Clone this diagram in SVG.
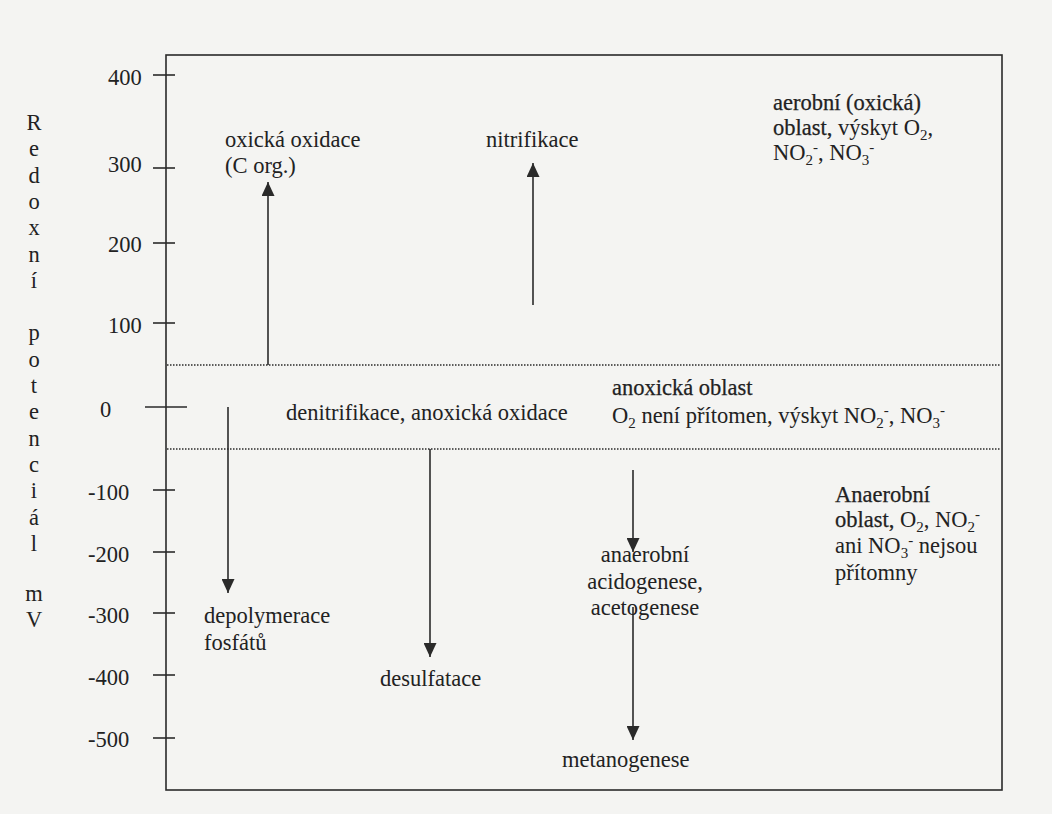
<svg xmlns="http://www.w3.org/2000/svg" width="1052" height="814" viewBox="0 0 1052 814">
<style>
text{font-family:"Liberation Serif","Tinos","Times New Roman","DejaVu Serif",serif;font-size:22.5px;fill:#222}
.hd{stroke:#222;stroke-width:0.25}
.ax{text-anchor:middle}
.s{font-size:15px}
.ln{stroke:#2a2a2a;stroke-width:1.6;fill:none}
.dot{stroke:#2a2a2a;stroke-width:1.5;stroke-dasharray:1.5 1.5;fill:none}
.arr{stroke:#2a2a2a;stroke-width:1.6;fill:none;marker-end:url(#ah)}
</style>
<defs>
<marker id="ah" markerUnits="userSpaceOnUse" markerWidth="14" markerHeight="13" refX="14" refY="6.5" orient="auto">
<path d="M0,0 L14,6.5 L0,13 z" fill="#2a2a2a"/>
</marker>
</defs>
<rect x="0" y="0" width="1052" height="814" fill="#f4f4f2"/>

<g id="frame">
<rect class="ln" x="166" y="55" width="836" height="735"/>
<line class="dot" x1="167" y1="365" x2="1001" y2="365"/>
<line class="dot" x1="167" y1="449" x2="1001" y2="449"/>
</g>

<g id="axis">
<g class="ln">
<line x1="153" y1="75" x2="175" y2="75"/>
<line x1="153" y1="168" x2="175" y2="168"/>
<line x1="153" y1="243" x2="175" y2="243"/>
<line x1="153" y1="323" x2="175" y2="323"/>
<line x1="145" y1="407" x2="187" y2="407"/>
<line x1="153" y1="490" x2="175" y2="490"/>
<line x1="153" y1="552" x2="175" y2="552"/>
<line x1="153" y1="613" x2="175" y2="613"/>
<line x1="153" y1="675" x2="175" y2="675"/>
<line x1="153" y1="738" x2="175" y2="738"/>
</g>
<text x="108" y="85">400</text>
<text x="108" y="172">300</text>
<text x="108" y="252">200</text>
<text x="108" y="333">100</text>
<text x="100" y="417">0</text>
<text x="88" y="500">-100</text>
<text x="88" y="562">-200</text>
<text x="88" y="623">-300</text>
<text x="88" y="685">-400</text>
<text x="88" y="747">-500</text>
</g>

<g id="axis-title">
<text class="ax" x="34" y="130">R</text>
<text class="ax" x="34" y="156">e</text>
<text class="ax" x="34" y="183">d</text>
<text class="ax" x="34" y="209">o</text>
<text class="ax" x="34" y="235">x</text>
<text class="ax" x="34" y="262">n</text>
<text class="ax" x="34" y="288">í</text>
<text class="ax" x="34" y="340">p</text>
<text class="ax" x="34" y="367">o</text>
<text class="ax" x="34" y="393">t</text>
<text class="ax" x="34" y="419">e</text>
<text class="ax" x="34" y="446">n</text>
<text class="ax" x="34" y="472">c</text>
<text class="ax" x="34" y="498">i</text>
<text class="ax" x="34" y="525">á</text>
<text class="ax" x="34" y="551">l</text>
<text class="ax" x="34" y="601">m</text>
<text class="ax" x="34" y="627">V</text>
</g>

<g id="connectors">
<line class="arr" x1="268" y1="365" x2="268" y2="182"/>
<line class="arr" x1="533" y1="305" x2="533" y2="163"/>
<line class="arr" x1="228" y1="407" x2="228" y2="593"/>
<line class="arr" x1="430" y1="449" x2="430" y2="657"/>
<line class="arr" x1="633" y1="470" x2="633" y2="552"/>
<line class="arr" x1="633" y1="607" x2="633" y2="740"/>
</g>

<g id="oxicka-oxidace">
<text x="225" y="147">oxická oxidace</text>
<text x="225" y="173">(C org.)</text>
</g>
<g id="nitrifikace">
<text x="486" y="147">nitrifikace</text>
</g>
<g id="aerobni-oblast">
<text x="773" y="110" class="hd">aerobní (oxická)</text>
<text x="773" y="135"><tspan class="hd">oblast,</tspan> výskyt O<tspan class="s" dy="5">2</tspan><tspan dy="-5">,</tspan></text>
<text x="773" y="160">NO<tspan class="s" dy="5">2</tspan><tspan class="s" dy="-13">-</tspan><tspan dy="8">, NO</tspan><tspan class="s" dy="5">3</tspan><tspan class="s" dy="-13">-</tspan></text>
</g>
<g id="denitrifikace">
<text x="286" y="420">denitrifikace, anoxická oxidace</text>
</g>
<g id="anoxicka-oblast">
<text x="612" y="395" class="hd">anoxická oblast</text>
<text x="612" y="423">O<tspan class="s" dy="5">2</tspan><tspan dy="-5"> není přítomen, výskyt NO</tspan><tspan class="s" dy="5">2</tspan><tspan class="s" dy="-13">-</tspan><tspan dy="8">, NO</tspan><tspan class="s" dy="5">3</tspan><tspan class="s" dy="-13">-</tspan></text>
</g>
<g id="depolymerace">
<text x="204" y="623">depolymerace</text>
<text x="204" y="650">fosfátů</text>
</g>
<g id="desulfatace">
<text x="380" y="686">desulfatace</text>
</g>
<g id="acidogenese">
<text x="645" y="562" text-anchor="middle">anaerobní</text>
<text x="645" y="589" text-anchor="middle">acidogenese,</text>
<text x="645" y="615" text-anchor="middle">acetogenese</text>
</g>
<g id="metanogenese">
<text x="562" y="767">metanogenese</text>
</g>
<g id="anaerobni-oblast">
<text x="835" y="502" class="hd">Anaerobní</text>
<text x="835" y="527"><tspan class="hd">oblast,</tspan> O<tspan class="s" dy="5">2</tspan><tspan dy="-5">, NO</tspan><tspan class="s" dy="5">2</tspan><tspan class="s" dy="-13">-</tspan></text>
<text x="835" y="553">ani NO<tspan class="s" dy="5">3</tspan><tspan class="s" dy="-13">-</tspan><tspan dy="8"> nejsou</tspan></text>
<text x="835" y="580">přítomny</text>
</g>
</svg>
